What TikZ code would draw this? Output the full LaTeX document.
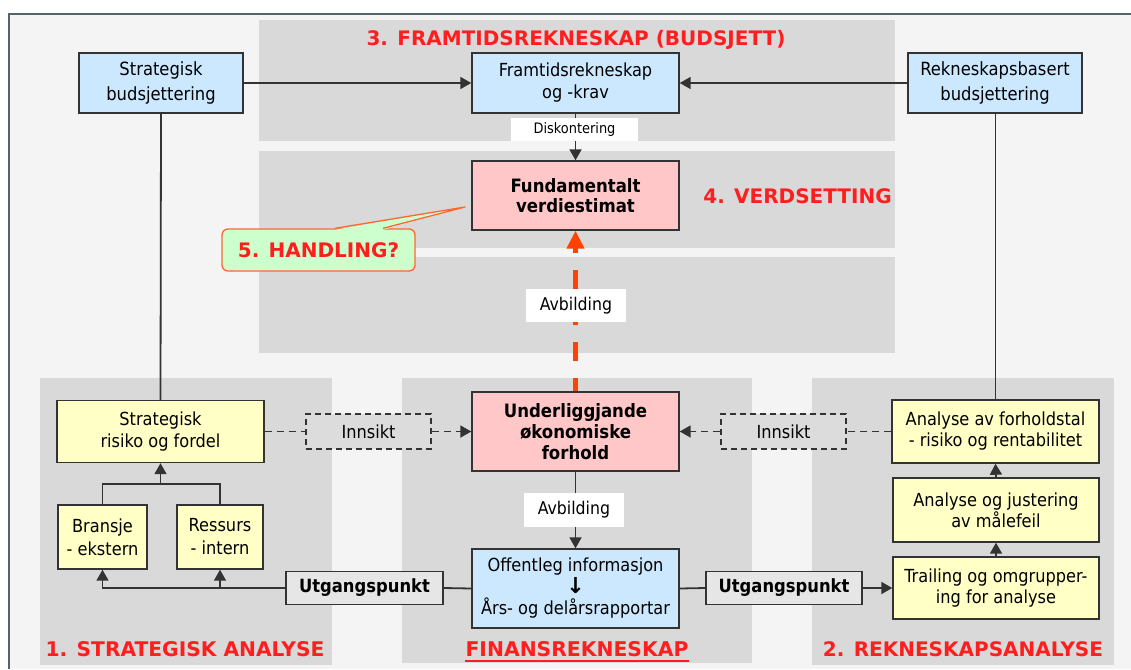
\documentclass[tikz,border=0pt]{standalone}
\usepackage{fontspec}
\setmainfont{DejaVu Sans Condensed}
\newfontfamily\headfont{DejaVu Sans}
\usetikzlibrary{arrows.meta}

\definecolor{framebg}{HTML}{F4F4F4}
\definecolor{framec}{HTML}{56626E}
\definecolor{panel}{HTML}{D9D9D9}
\definecolor{bluebox}{HTML}{CCE8FF}
\definecolor{pinkbox}{HTML}{FFC7C7}
\definecolor{yellowbox}{HTML}{FFFFC6}
\definecolor{greybox}{HTML}{E6E6E6}
\definecolor{dashbox}{HTML}{DCDCDC}
\definecolor{linec}{HTML}{333333}
\definecolor{headred}{HTML}{FF1E1E}
\definecolor{arrowred}{HTML}{FF4200}
\definecolor{callfill}{HTML}{CCFFCC}
\definecolor{callline}{HTML}{FF6633}

\begin{document}
\begin{tikzpicture}[x=1pt,y=-1pt,
  sz/.style 2 args={minimum width=#1pt,minimum height=#2pt},
  box/.style={draw=linec,line width=1.4pt,align=center,inner sep=0pt,
    font=\fontsize{18}{22}\selectfont},
  bluenode/.style={box,fill=bluebox},
  pinknode/.style={box,fill=pinkbox,font=\bfseries\fontsize{18.4}{21}\selectfont},
  yellownode/.style={box,fill=yellowbox},
  startnode/.style={box,fill=greybox,font=\bfseries\fontsize{18.2}{21}\selectfont},
  insight/.style={box,fill=dashbox,dashed,dash pattern=on 6pt off 4pt},
  tag/.style={fill=white,inner sep=0pt,align=center,font=\fontsize{17.5}{21}\selectfont},
  head/.style={text=headred,inner sep=0pt,font=\headfont\bfseries\fontsize{#1}{22}\selectfont},
  head/.default=20,
  conn/.style={draw=linec,line width=1.8pt},
  arr/.style={conn,-{Triangle[length=11pt,width=12pt]}},
  dconn/.style={conn,dash pattern=on 7pt off 5pt},
  darr/.style={dconn,-{Triangle[length=11pt,width=12pt]}},
]
\useasboundingbox (0,0) rectangle (1131,669);
\fill[white] (0,0) rectangle (1131,669);

% outer frame
\fill[framebg] (9,14) rectangle (1131,669);
\draw[framec,line width=2pt] (9,669) -- (9,14) -- (1131,14);

% grey panels
\fill[panel] (259,20) rectangle (895,141);
\fill[panel] (259,151) rectangle (895,248);
\fill[panel] (259,257) rectangle (895,353);
\fill[panel] (40,378) rectangle (332,665);
\fill[panel] (402,378) rectangle (752,663);
\fill[panel] (812,378) rectangle (1114,665);

% panel headings
\node[head] (h3) at (576,40) {3. FRAMTIDSREKNESKAP (BUDSJETT)};
\node[head] (h4) at (797.5,196) {4. VERDSETTING};
\node[head=20.2] (h1) at (185,649) {1. STRATEGISK ANALYSE};
\node[head=20.3] (hf) at (577,649) {FINANSREKNESKAP};
\draw[headred,line width=1.8pt] ([yshift=-4pt]hf.south west) -- ([yshift=-4pt]hf.south east);
\node[head] (h2) at (963,649) {2. REKNESKAPSANALYSE};

% budget row
\node[bluenode,sz={164}{60},font=\fontsize{18.2}{25.5}\selectfont] (sbud) at (161,83) {Strategisk\\budsjettering};
\node[bluenode,sz={207}{60}] (ftr) at (575.5,83) {Framtidsrekneskap\\og -krav};
\node[bluenode,sz={174}{60},font=\fontsize{18.2}{25}\selectfont] (rbud) at (995,83) {Rekneskapsbasert\\budsjettering};

% valuation
\node[pinknode,sz={207}{69},font=\bfseries\fontsize{18.4}{20}\selectfont] (fund) at (575.5,195.5) {Fundamentalt\\verdiestimat};

% financial statements
\node[pinknode,sz={207}{79}] (und) at (575.5,431.5) {Underliggjande\\økonomiske\\forhold};
\node[bluenode,sz={207}{79},font=\fontsize{18}{21.5}\selectfont] (off) at (575.5,588.5)
  {Offentleg informasjon\\{\headfont\bfseries\fontsize{22}{21.5}\selectfont ↓}\\Års- og delårsrapportar};

% strategic analysis
\node[yellownode,sz={207}{62}] (srf) at (160.5,431.5) {Strategisk\\risiko og fordel};
\node[yellownode,sz={89}{64},font=\fontsize{18}{23}\selectfont] (bra) at (102.5,537) {Bransje\\- ekstern};
\node[yellownode,sz={86}{64},font=\fontsize{18}{23}\selectfont] (res) at (220,537) {Ressurs\\- intern};

% accounting analysis
\node[yellownode,sz={207}{63},font=\fontsize{18}{21}\selectfont] (afs) at (995.5,431.5) {Analyse av forholdstal\\- risiko og rentabilitet};
\node[yellownode,sz={206}{64},font=\fontsize{18}{21}\selectfont] (aoj) at (996,510) {Analyse og justering\\av målefeil};
\node[yellownode,sz={206}{62},font=\fontsize{18}{21}\selectfont] (trl) at (996,588) {Trailing og omgrupper-\\ing for analyse};

% starting points and insight boxes
\node[startnode,sz={157}{33}] (utl) at (364.5,588) {Utgangspunkt};
\node[startnode,sz={156}{33}] (utr) at (784,588) {Utgangspunkt};
\node[insight,sz={125}{35}] (inl) at (368.5,431.5) {Innsikt};
\node[insight,sz={125}{35}] (inr) at (783.5,431.5) {Innsikt};

% connectors
\draw[arr] (sbud.east) -- (ftr.west);
\draw[arr] (rbud.west) -- (ftr.east);
\draw[arr] (ftr.south) -- (fund.north);
\draw[conn] (sbud.south) -- (srf.north);
\draw[conn] (rbud.south -| afs.north) -- (afs.north);

\coordinate (join) at (160.5,484);
\draw[conn] (bra.north) |- (join) -| (res.north);
\draw[arr] (join) -- (srf.south);

\draw[conn] (off.west) -- (utl.east);
\draw[arr] (utl.west) -| (bra.south);
\draw[arr] (utl.west -| res.south) -- (res.south);

\draw[conn] (off.east) -- (utr.west);
\draw[arr] (utr.east) -- (trl.west);
\draw[arr] (trl.north) -- (aoj.south);
\draw[arr] (aoj.north) -- (afs.south);

\draw[dconn] (srf.east) -- (inl.west);
\draw[darr] (inl.east) -- (und.west);
\draw[dconn] (afs.west) -- (inr.east);
\draw[darr] (inr.west) -- (und.east);

\draw[arr] (und.south) -- (off.north);

\draw[arrowred,line width=4.5pt,dash pattern=on 19pt off 17pt,dash phase=6pt,
  -{Triangle[length=18pt,width=17pt]}] (und.north) -- (fund.south);

% labels sitting on the connectors
\node[tag,sz={127}{23},font=\fontsize{14.4}{16}\selectfont] (disk) at (574.5,129.5) {Diskontering};
\node[tag,sz={100}{33}] (avb1) at (576,305.5) {Avbilding};
\node[tag,sz={100}{34}] (avb2) at (574,510) {Avbilding};

% action callout
\node[draw=callline,fill=callfill,line width=1.3pt,rounded corners=6pt,sz={193}{42},inner sep=0pt,
  text=headred,font=\headfont\bfseries\fontsize{20}{22}\selectfont] (hand) at (318.5,250) {5. HANDLING?};
\coordinate (tip) at (465,207);
\fill[callfill] ([xshift=16.5pt,yshift=-1.5pt]hand.north) -- (tip) -- ([xshift=64.5pt,yshift=-1.5pt]hand.north) -- cycle;
\draw[callline,line width=1.3pt,line join=round] ([xshift=16.5pt]hand.north) -- (tip) -- ([xshift=64.5pt]hand.north);
\end{tikzpicture}
\end{document}
